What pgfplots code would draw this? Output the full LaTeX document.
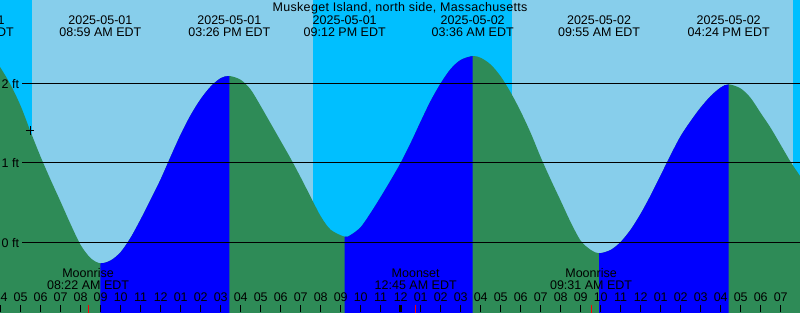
\documentclass[border=0pt]{standalone}
\usepackage{pgfplots}
\pgfplotsset{compat=1.18}
\usepgfplotslibrary{fillbetween}
\usepackage{fontspec}
\setmainfont{Liberation Sans}
\newfontfamily\titlefont[LetterSpace=2.5]{Liberation Sans}
\definecolor{daysky}{RGB}{135,206,235}
\definecolor{nightsky}{RGB}{0,191,255}
\definecolor{ebb}{RGB}{46,139,87}
\definecolor{flood}{RGB}{0,0,255}
\newcommand{\lbl}{\fontsize{12.5}{12.5}\selectfont}
\begin{document}
\begin{tikzpicture}
\begin{axis}[
  set layers,
  width=800pt, height=312pt, scale only axis,
  xmin=3.965, xmax=43.965, ymin=-0.877, ymax=3.048,
  axis on top,
  axis line style={draw=none},
  axis background/.style={fill=daysky},
  xtick={4,...,44},
  xticklabels={04,05,06,07,08,09,10,11,12,01,02,03,04,05,06,07,08,09,10,11,12,01,02,03,04,05,06,07,08,09,10,11,12,01,02,03,04,05,06,07,08},
  xtick pos=left,
  ytick=\empty,
  major tick length=7pt,
  tick align=inside,
  tick style={black, line width=1pt},
  xticklabel style={font=\lbl, anchor=base, yshift=10.3pt, inner sep=0pt},
  extra x ticks={24},
  extra x tick labels={},
  extra x tick style={tick style={black, line width=3pt}},
]
% night
\addplot[fill=nightsky, draw=none, on layer=pre main] coordinates {(3,-2) (5.565,-2) (5.565,4) (3,4)};
\addplot[fill=nightsky, draw=none, on layer=pre main] coordinates {(19.63,-2) (29.55,-2) (29.55,4) (19.63,4)};
\addplot[fill=nightsky, draw=none, on layer=pre main] coordinates {(43.63,-2) (45,-2) (45,4) (43.63,4)};
% tide curve (ft above datum, hours from 2025-05-01 00:00 EDT)
\addplot[name path=tide, draw=none, smooth] coordinates {
(3.5,2.369) (4.0,2.192) (4.5,1.979) (5.0,1.714) (5.5,1.387) (6.0,1.073)
(6.5,0.784) (7.0,0.507) (7.5,0.225) (8.0,-0.035) (8.5,-0.200) (8.983,-0.264)
(9.5,-0.228) (10.0,-0.123) (10.5,0.060) (11.0,0.290) (11.5,0.538) (12.0,0.794)
(12.5,1.079) (13.0,1.357) (13.5,1.601) (14.0,1.803) (14.5,1.960) (15.0,2.065) (15.433,2.092)
(16.0,2.044) (16.5,1.921) (17.0,1.714) (17.5,1.494) (18.0,1.274)
(18.5,1.053) (19.0,0.816) (19.5,0.570) (20.0,0.328) (20.5,0.158) (21.2,0.070)
(21.5,0.092) (22.0,0.19) (22.5,0.37) (23.0,0.57) (23.5,0.78) (24.0,1.00) (24.5,1.25)
(25.0,1.52) (25.5,1.78) (26.0,2.00) (26.5,2.181) (27.0,2.294) (27.6,2.343)
(28.0,2.321) (28.5,2.236) (29.0,2.087) (29.5,1.884) (30.0,1.645) (30.5,1.375)
(31.0,1.070) (31.5,0.789) (32.0,0.522) (32.5,0.252) (33.0,0.020) (33.5,-0.095) (33.917,-0.138)
(34.5,-0.096) (35.0,0.005) (35.5,0.160) (36.0,0.360) (36.5,0.592) (37.0,0.844)
(37.5,1.099) (38.0,1.337) (38.5,1.526) (39.0,1.696) (39.5,1.840) (40.0,1.947) (40.4,1.987)
(41.0,1.935) (41.5,1.815) (42.0,1.626) (42.5,1.438) (43.0,1.224)
(43.5,1.010) (44.0,0.821) (44.5,0.620)};
\addplot[name path=floor, draw=none] coordinates {(3,-2) (45,-2)};
% ebb (falling) everywhere, flood (rising) on top
\addplot[ebb] fill between[of=tide and floor];
\addplot[flood] fill between[of=tide and floor, soft clip={domain=8.983:15.433}];
\addplot[flood] fill between[of=tide and floor, soft clip={domain=21.2:27.6}];
\addplot[flood] fill between[of=tide and floor, soft clip={domain=33.917:40.4}];
% reference lines
\addplot[black, line width=1pt] coordinates {(5.065,2) (44.5,2)};
\addplot[black, line width=1pt] coordinates {(5.065,1) (44.5,1)};
\addplot[black, line width=1pt] coordinates {(5.065,0) (44.5,0)};
% current time mark
\addplot[only marks, mark=+, mark size=4.3pt, black, line width=1pt] coordinates {(5.465,1.41)};
% moon event ticks
\addplot[red, line width=1pt] coordinates {(8.367,-1) (8.367,-0.789)};
\addplot[red, line width=1pt] coordinates {(24.75,-1) (24.75,-0.789)};
\addplot[red, line width=1pt] coordinates {(33.517,-1) (33.517,-0.789)};
% labels
\tikzset{lab/.style={font=\lbl, anchor=base, inner sep=0pt}}
\node[lab, font=\titlefont\lbl] at (axis cs:23.965,2.909) {Muskeget Island, north side, Massachusetts};
\node[lab] at (axis cs:2.6,2.746) {2025-05-01};
\node[lab] at (axis cs:2.6,2.595) {02:36 AM EDT};
\node[lab] at (axis cs:8.983,2.746) {2025-05-01};
\node[lab] at (axis cs:8.983,2.595) {08:59 AM EDT};
\node[lab] at (axis cs:15.433,2.746) {2025-05-01};
\node[lab] at (axis cs:15.433,2.595) {03:26 PM EDT};
\node[lab] at (axis cs:21.2,2.746) {2025-05-01};
\node[lab] at (axis cs:21.2,2.595) {09:12 PM EDT};
\node[lab] at (axis cs:27.6,2.746) {2025-05-02};
\node[lab] at (axis cs:27.6,2.595) {03:36 AM EDT};
\node[lab] at (axis cs:33.917,2.746) {2025-05-02};
\node[lab] at (axis cs:33.917,2.595) {09:55 AM EDT};
\node[lab] at (axis cs:40.4,2.746) {2025-05-02};
\node[lab] at (axis cs:40.4,2.595) {04:24 PM EDT};
\node[lab] at (axis cs:8.367,-0.445) {Moonrise};
\node[lab] at (axis cs:8.367,-0.591) {08:22 AM EDT};
\node[lab] at (axis cs:24.75,-0.445) {Moonset};
\node[lab] at (axis cs:24.75,-0.591) {12:45 AM EDT};
\node[lab] at (axis cs:33.517,-0.445) {Moonrise};
\node[lab] at (axis cs:33.517,-0.591) {09:31 AM EDT};
\node[lab, anchor=base east] at (axis cs:4.93,1.94) {2 ft};
\node[lab, anchor=base east] at (axis cs:4.93,0.94) {1 ft};
\node[lab, anchor=base east] at (axis cs:4.93,-0.06) {0 ft};
\end{axis}
\pgfresetboundingbox
\path[use as bounding box] (current axis.south west) rectangle (current axis.north east);
\end{tikzpicture}
\end{document}
